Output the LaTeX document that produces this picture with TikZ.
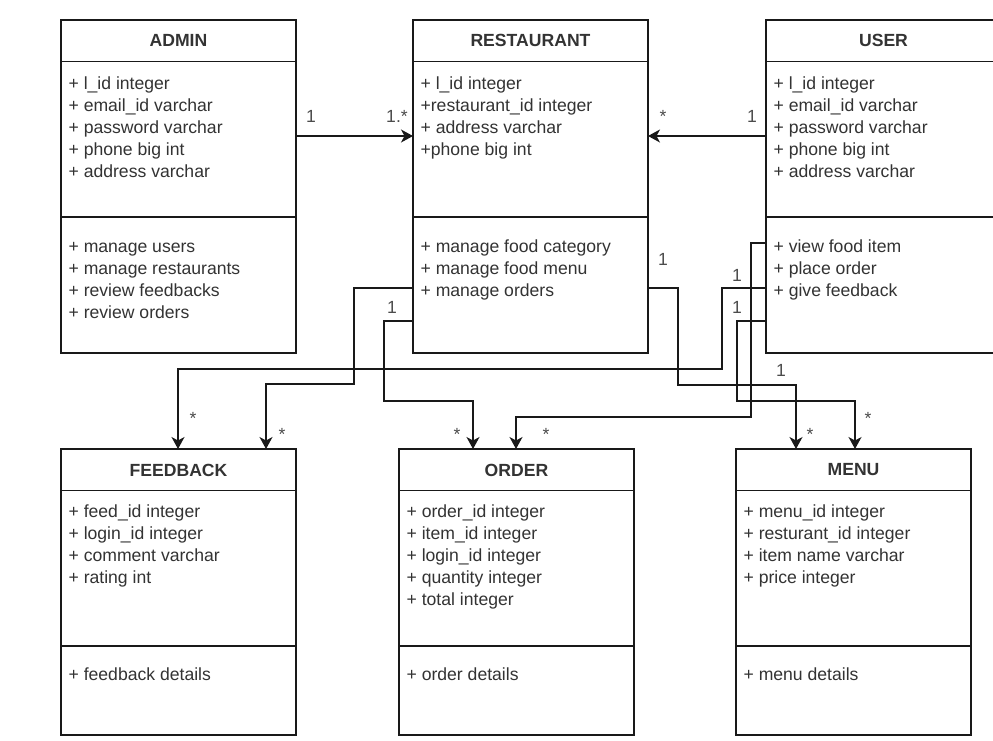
\documentclass[tikz,border=0pt]{standalone}
\usepackage{fontspec}
\setmainfont{Liberation Sans}
\usetikzlibrary{positioning}
\usetikzlibrary{arrows.meta}

\begin{document}
\begin{tikzpicture}[x=1pt,y=-1pt,line width=1.2pt,
	>={Stealth[length=12pt,width=13pt,inset=3.5pt]},
	classbox/.style={draw=black!90, rectangle, anchor=north west, minimum width=235pt, inner sep=0pt, outer sep=0pt},
	classname/.style={font=\fontsize{17.6pt}{22pt}\selectfont\bfseries, text=black!80, inner sep=0pt},
	members/.style={font=\fontsize{17.6pt}{22pt}\selectfont, anchor=north west, align=left, text=black!80, inner sep=0pt},
	mult/.style={font=\fontsize{17.6pt}{22pt}\selectfont, anchor=base, text=black!70, inner sep=0pt},
	conn/.style={->, draw=black!90}]
	\path[use as bounding box, fill=white] (0,0) rectangle (993,740);
	\clip (0,0) rectangle (993,740);

	% top row
	\node (admin) [classbox, minimum height=333pt] at (61,20) {};
	\node (restaurant) [classbox, minimum height=333pt, right=117pt of admin] {};
	\node (user) [classbox, minimum height=333pt, right=118pt of restaurant] {};
	% bottom row
	\node (feedback) [classbox, minimum height=286pt] at (61,449) {};
	\node (order) [classbox, minimum height=286pt, right=103pt of feedback] {};
	\node (menu) [classbox, minimum height=286pt, right=102pt of order] {};

	\foreach \c in {admin,restaurant,user,feedback,order,menu}{
		\draw[black!90] ([yshift=-41.5pt]\c.north west) -- ([yshift=-41.5pt]\c.north east);
		\draw[black!90] ([yshift=-197pt]\c.north west) -- ([yshift=-197pt]\c.north east);
	}

	\node (admint) [classname] at ([yshift=-20.5pt]admin.north) {ADMIN};
	\node (admina) [members] at ([xshift=7pt,yshift=-53.6pt]admin.north west) {\strut + l\_id integer\\+ email\_id varchar\\+ password varchar\\+ phone big int\\+ address varchar};
	\node (adminm) [members] at ([xshift=7pt,yshift=-216.6pt]admin.north west) {\strut + manage users\\+ manage restaurants\\+ review feedbacks\\+ review orders};

	\node (restt) [classname] at ([yshift=-20.5pt]restaurant.north) {RESTAURANT};
	\node (resta) [members] at ([xshift=7pt,yshift=-53.6pt]restaurant.north west) {\strut + l\_id integer\\+restaurant\_id integer\\+ address varchar\\+phone big int};
	\node (restm) [members] at ([xshift=7pt,yshift=-216.6pt]restaurant.north west) {\strut + manage food category\\+ manage food menu\\+ manage orders};

	\node (usert) [classname] at ([yshift=-20.5pt]user.north) {USER};
	\node (usera) [members] at ([xshift=7pt,yshift=-53.6pt]user.north west) {\strut + l\_id integer\\+ email\_id varchar\\+ password varchar\\+ phone big int\\+ address varchar};
	\node (userm) [members] at ([xshift=7pt,yshift=-216.6pt]user.north west) {\strut + view food item\\+ place order\\+ give feedback};

	\node (feedt) [classname] at ([yshift=-21pt]feedback.north) {FEEDBACK};
	\node (feeda) [members] at ([xshift=7pt,yshift=-52.6pt]feedback.north west) {\strut + feed\_id integer\\+ login\_id integer\\+ comment varchar\\+ rating int};
	\node (feedm) [members] at ([xshift=7pt,yshift=-215.6pt]feedback.north west) {\strut + feedback details};

	\node (ordert) [classname] at ([yshift=-21pt]order.north) {ORDER};
	\node (ordera) [members] at ([xshift=7pt,yshift=-52.6pt]order.north west) {\strut + order\_id integer\\+ item\_id integer\\+ login\_id integer\\+ quantity integer\\+ total integer};
	\node (orderm) [members] at ([xshift=7pt,yshift=-215.6pt]order.north west) {\strut + order details};

	\node (menut) [classname] at ([yshift=-21pt]menu.north) {MENU};
	\node (menua) [members] at ([xshift=7pt,yshift=-52.6pt]menu.north west) {\strut + menu\_id integer\\+ resturant\_id integer\\+ item name varchar\\+ price integer};
	\node (menum) [members] at ([xshift=7pt,yshift=-215.6pt]menu.north west) {\strut + menu details};

	% associations
	\draw[conn] (admin.east |- 0,136) -- (restaurant.west |- 0,136);
	\draw[conn] (user.west |- 0,136) -- (restaurant.east |- 0,136);
	\draw[conn] (restaurant.west |- 0,288) -| (354,384) -| (feedback.north -| 266,0);
	\draw[conn] (restaurant.west |- 0,321) -| (384,401) -| (order.north -| 473,0);
	\draw[conn] (restaurant.east |- 0,288) -| (678,385) -| (menu.north -| 796,0);
	\draw[conn] (user.west |- 0,288) -| (722,369) -| (feedback.north -| 178,0);
	\draw[conn] (user.west |- 0,243) -| (751,417) -| (order.north -| 516,0);
	\draw[conn] (user.west |- 0,321) -| (737,401) -| (menu.north -| 855,0);

	% multiplicities
	\node (m1) [mult] at (311,122) {1};
	\node (m2) [mult] at (397,122) {1.*};
	\node (m3) [mult] at (663,122) {*};
	\node (m4) [mult] at (752,122) {1};
	\node (m5) [mult] at (392,313) {1};
	\node (m6) [mult] at (663,265) {1};
	\node (m7) [mult] at (737,281) {1};
	\node (m8) [mult] at (737,313) {1};
	\node (m9) [mult] at (781,376) {1};
	\node (m10) [mult] at (193,424) {*};
	\node (m11) [mult] at (282,440) {*};
	\node (m12) [mult] at (457,440) {*};
	\node (m13) [mult] at (546,440) {*};
	\node (m14) [mult] at (810,440) {*};
	\node (m15) [mult] at (868,424) {*};
\end{tikzpicture}
\end{document}
